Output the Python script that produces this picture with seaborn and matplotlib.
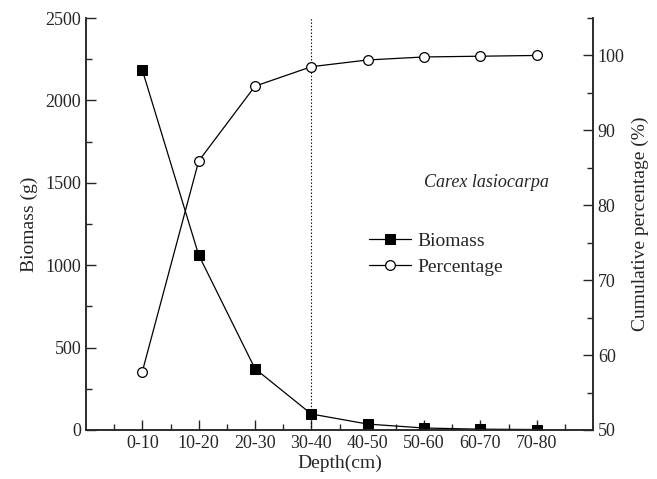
import matplotlib
matplotlib.use("Agg")
import matplotlib.pyplot as plt
import seaborn as sns
import numpy as np
from matplotlib.ticker import MultipleLocator, FixedLocator

depth = ['0-10', '10-20', '20-30', '30-40', '40-50', '50-60', '60-70', '70-80']
biomass = [2184, 1062, 372, 97, 36, 12, 5, 3]
percentage = [57.8, 85.9, 95.9, 98.5, 99.4, 99.8, 99.9, 100.0]

sns.set_style("ticks")
plt.rcParams['font.family'] = ['Liberation Serif', 'DejaVu Serif']

pos = np.arange(1, len(depth) + 1)

fig = plt.figure(figsize=(6.57, 4.79), dpi=100)
ax = fig.add_axes([0.1309, 0.1023, 0.9026 - 0.1309, 0.9624 - 0.1023])
ax2 = ax.twinx()

sns.lineplot(x=pos, y=biomass, ax=ax, color='black', lw=0.9, marker='s',
             markersize=6.5, markerfacecolor='black', markeredgecolor='black',
             label='Biomass', legend=False)
sns.lineplot(x=pos, y=percentage, ax=ax2, color='black', lw=0.9, marker='o',
             markersize=7, markerfacecolor='white', markeredgecolor='black',
             markeredgewidth=0.9, label='Percentage', legend=False)

ax.axvline(4, color='black', lw=0.8, ls=(0, (1.2, 1.8)))

ax.set_xlim(0, 9)
ax.set_ylim(0, 2500)
ax2.set_ylim(50, 105)

ax.xaxis.set_major_locator(FixedLocator(pos))
ax.set_xticklabels(depth)
ax.xaxis.set_minor_locator(FixedLocator(np.arange(0.5, 9, 1)))
ax.yaxis.set_major_locator(MultipleLocator(500))
ax.yaxis.set_minor_locator(MultipleLocator(250))
ax2.yaxis.set_major_locator(FixedLocator([50, 60, 70, 80, 90, 100]))
ax2.yaxis.set_minor_locator(MultipleLocator(5))

for a in (ax, ax2):
    a.tick_params(which='major', direction='in', length=7, width=1, labelsize=13)
    a.tick_params(which='minor', direction='in', length=4, width=1)
    for s in a.spines.values():
        s.set_linewidth(1.1)
    a.spines['top'].set_visible(False)
ax2.tick_params(axis='x', which='both', top=False)

ax.set_xlabel('Depth(cm)', fontsize=14, labelpad=2)
ax.set_ylabel('Biomass (g)', fontsize=14, labelpad=5)
ax2.set_ylabel('Cumulative percentage (%)', fontsize=14, labelpad=5)

ax.text(0.79, 0.6, 'Carex lasiocarpa', transform=ax.transAxes, fontsize=13,
        style='italic', ha='center', va='center')

h1, _ = ax.get_legend_handles_labels()
h2, _ = ax2.get_legend_handles_labels()
ax.legend(h1 + h2, ['Biomass', 'Percentage'], frameon=False, fontsize=14,
          loc='center', bbox_to_anchor=(0.69, 0.427), handlelength=2.2,
          handletextpad=0.3, labelspacing=0.45, borderpad=0)

fig.savefig('out.png', dpi=100)
